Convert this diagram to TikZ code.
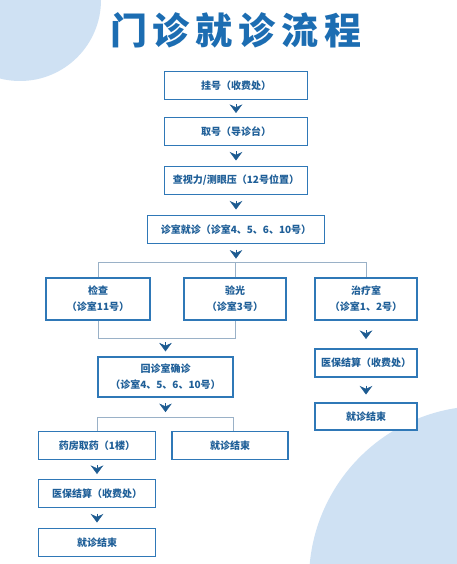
\documentclass[tikz,border=0pt]{standalone}
\usepackage{fontspec}
\setmainfont{Noto Sans CJK SC}
\usetikzlibrary{arrows.meta,calc}
\definecolor{bgblue}{HTML}{CFE1F3}
\definecolor{titleblue}{HTML}{1C6DB2}
\definecolor{boxblue}{HTML}{2F78B7}
\definecolor{txtblue}{HTML}{1F5F98}
\definecolor{linegray}{HTML}{9AB1C7}
\definecolor{chevblue}{HTML}{1D5B91}
\tikzset{
  box/.style={draw=boxblue,line width=1.2pt,fill=white,text=txtblue,
    font=\bfseries\fontsize{10}{16}\selectfont,align=center,
    minimum height=28pt,inner sep=0pt},
  link/.style={draw=linegray,line width=0.9pt},
  chev/.style={-{Stealth[width=12.5pt,length=8.5pt,inset=2.8pt]},chevblue,line width=0.4pt},
}

\begin{document}
\begin{tikzpicture}[x=1pt,y=-1pt]
            \useasboundingbox (0,0) rectangle (457,564);
            \clip (0,0) rectangle (457,564);
            \fill[white] (0,0) rectangle (457,564);
            \fill[bgblue] (20,0) circle [radius=81pt];
            \fill[bgblue] (483,580) circle [radius=174pt];
            \node [text=titleblue,font=\bfseries\fontsize{37}{37}\selectfont] (title) at (236,30)
              {门\hspace{6pt}诊\hspace{6pt}就\hspace{6pt}诊\hspace{6pt}流\hspace{6pt}程};%
            % main line
            \node [box,minimum width=143pt] (reg) at (236,85.5) {挂号（收费处）};%
            \node [box,minimum width=143pt] (num) at (236,131.5) {取号（导诊台）};%
            \node [box,minimum width=143pt] (eye) at (236,180.5) {查视力/测眼压（12号位置）};%
            \node [box,minimum width=177pt] (visit) at (236,229.5) {诊室就诊（诊室4、5、6、10号）};%
            \node [box,minimum width=104pt,minimum height=42pt] (exam) at (98,299) {检查\\（诊室11号）};%
            \node [box,minimum width=102pt,minimum height=42pt] (opt) at (235,299) {验光\\（诊室3号）};%
            \node [box,minimum width=102pt,minimum height=42pt] (treat) at (366,299) {治疗室\\（诊室1、2号）};%
            \node [box,minimum width=135pt,minimum height=40pt] (recheck) at (165.5,377) {回诊室确诊\\（诊室4、5、6、10号）};%
            % left branch
            \node [box,minimum width=117pt] (pharm) at (97,445.5) {药房取药（1楼）};%
            \node [box,minimum width=116pt] (endA) at (230,445.5) {就诊结束};%
            \node [box,minimum width=117pt] (payA) at (97,493.5) {医保结算（收费处）};%
            \node [box,minimum width=117pt] (endB) at (97,542.5) {就诊结束};%
            % right branch
            \node [box,minimum width=102pt] (payB) at (366,363) {医保结算（收费处）};%
            \node [box,minimum width=102pt,minimum height=27pt] (endC) at (366,416.5) {就诊结束};%
            % bus lines
            \draw[link] (exam.north) -- ++(0,-15) -| (treat.north);
            \draw[link] (opt.north) -- ++(0,-15);
            \draw[link] (exam.south) -- ++(0,18) -| (opt.south);
            \draw[link] (pharm.north -| recheck.south west) |- ($(recheck.south)+(0,20)$)
              -| (endA.north -| recheck.south east);
            % chevrons
            \foreach \a/\b in {reg/num,num/eye,eye/visit,pharm/payA,payA/endB,treat/payB,payB/endC}
              \draw[chev] ($(\a.south)!0.5!(\b.north)+(0,-4.5)$) -- ++(0,9);
            \draw[chev] ($(visit.south)+(0,5.5)$) -- ++(0,9);
            \draw[chev] ($(recheck.north)+(0,-14)$) -- ++(0,9);
            \draw[chev] ($(recheck.south)+(0,5.5)$) -- ++(0,9);
        \end{tikzpicture}
\end{document}
